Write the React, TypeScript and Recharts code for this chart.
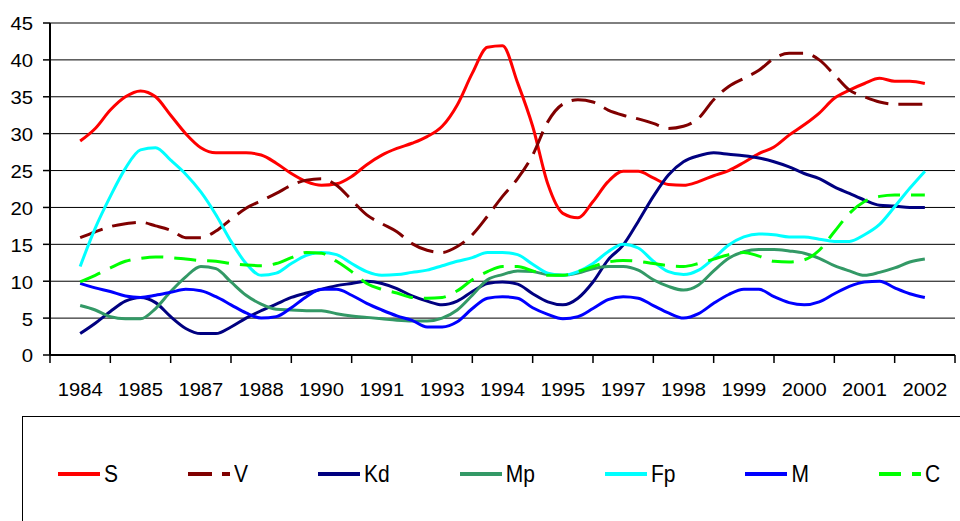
import React from 'react';
import { LineChart, Line, XAxis, YAxis, CartesianGrid } from 'recharts';

// category positions (in units of one label slot), read every quarter slot
const positions = [
  0.5, 0.75, 1, 1.25, 1.5, 1.75, 2, 2.25, 2.5, 2.75, 3, 3.25, 3.5, 3.75, 4, 4.25,
  4.5, 4.75, 5, 5.25, 5.5, 5.75, 6, 6.25, 6.5, 6.75, 7, 7.25, 7.5, 7.75, 8, 8.25,
  8.5, 8.75, 9, 9.25, 9.5, 9.75, 10, 10.25, 10.5, 10.75, 11, 11.25, 11.5, 11.75, 12, 12.25,
  12.5, 12.75, 13, 13.25, 13.5, 13.75, 14, 14.25, 14.5,
];

const yearLabels = [
  '1984', '1985', '1987', '1988', '1990', '1991', '1993', '1994',
  '1995', '1997', '1998', '1999', '2000', '2001', '2002',
];

const slotEdges = [0, 1, 2, 3, 4, 5, 6, 7, 8, 9, 10, 11, 12, 13, 14, 15];
const yTicks = [0, 5, 10, 15, 20, 25, 30, 35, 40, 45];

const sValues = [
  29.0, 30.7, 33.2, 35.0, 35.8, 35.0, 32.5, 30.0, 28.1, 27.4, 27.4, 27.4, 27.1, 26.0, 24.6, 23.5,
  23.0, 23.2, 24.2, 25.8, 27.1, 28.0, 28.7, 29.6, 31.0, 33.9, 38.2, 41.7, 41.9, 36.9, 31.0, 23.2,
  19.2, 18.6, 20.8, 23.5, 24.9, 24.9, 24.0, 23.1, 23.0, 23.5, 24.3, 25.0, 26.1, 27.3, 28.2, 29.8,
  31.2, 32.8, 34.8, 35.9, 36.8, 37.5, 37.1, 37.1, 36.8,
];
const vValues = [
  15.9, 16.7, 17.4, 17.8, 18.0, 17.5, 16.9, 15.9, 15.9, 16.8, 18.4, 19.9, 20.9, 21.9, 23.0, 23.7,
  23.9, 23.0, 21.0, 19.0, 17.8, 16.7, 15.1, 14.2, 13.9, 14.7, 16.3, 18.8, 21.5, 23.9, 27.1, 31.6,
  34.0, 34.6, 34.3, 33.2, 32.5, 32.0, 31.4, 30.7, 31.0, 32.1, 34.6, 36.4, 37.5, 38.6, 40.2, 40.9,
  40.9, 40.0, 38.0, 35.9, 35.0, 34.3, 34.0, 34.0, 34.0,
];
const kdValues = [
  2.9, 4.3, 5.9, 7.3, 7.8, 7.1, 5.2, 3.6, 2.9, 2.9, 3.8, 5.0, 6.0, 6.9, 7.8, 8.4,
  8.9, 9.4, 9.7, 10.0, 9.7, 9.0, 8.0, 7.3, 6.8, 7.3, 8.6, 9.7, 9.9, 9.6, 8.3, 7.2,
  6.8, 7.7, 9.9, 12.9, 14.9, 18.1, 21.5, 24.4, 26.2, 27.0, 27.4, 27.2, 27.0, 26.7, 26.2, 25.5,
  24.6, 23.9, 22.8, 21.9, 21.0, 20.3, 20.2, 20.0, 20.0,
];
const mpValues = [
  6.7, 6.1, 5.2, 4.9, 4.9, 6.3, 8.6, 10.6, 12.0, 11.7, 9.9, 8.1, 6.9, 6.2, 6.1, 6.0,
  6.0, 5.6, 5.3, 5.1, 4.9, 4.7, 4.6, 4.6, 5.0, 6.1, 8.1, 10.2, 10.9, 11.4, 11.3, 10.9,
  10.8, 11.1, 11.7, 12.0, 12.0, 11.5, 10.2, 9.3, 8.8, 9.5, 11.4, 13.1, 14.0, 14.3, 14.3, 14.1,
  13.8, 13.1, 12.1, 11.4, 10.8, 11.2, 11.8, 12.6, 13.0,
];
const fpValues = [
  12.0, 17.2, 21.5, 25.3, 27.8, 28.1, 26.4, 24.5, 22.1, 19.0, 15.4, 12.4, 10.8, 11.1, 12.4, 13.5,
  13.9, 13.6, 12.4, 11.3, 10.8, 10.9, 11.2, 11.5, 12.1, 12.7, 13.2, 13.9, 13.9, 13.6, 12.3, 11.1,
  10.8, 11.3, 12.4, 14.0, 15.0, 14.5, 12.7, 11.3, 10.9, 11.5, 13.1, 14.9, 16.0, 16.4, 16.3, 16.0,
  16.0, 15.7, 15.4, 15.4, 16.3, 17.7, 20.1, 22.6, 24.9,
];
const mValues = [
  9.7, 9.1, 8.6, 8.0, 7.8, 8.1, 8.5, 8.9, 8.7, 7.9, 6.8, 5.7, 5.0, 5.2, 6.4, 7.9,
  8.9, 8.9, 8.1, 7.0, 6.1, 5.3, 4.7, 3.8, 3.8, 4.5, 6.3, 7.7, 7.9, 7.7, 6.4, 5.5,
  4.9, 5.2, 6.3, 7.5, 7.9, 7.7, 6.7, 5.7, 5.0, 5.6, 7.0, 8.2, 8.9, 8.9, 7.9, 7.1,
  6.8, 7.2, 8.3, 9.3, 9.9, 10.0, 9.1, 8.3, 7.8,
];
const cValues = [
  9.9, 10.8, 11.8, 12.7, 13.1, 13.3, 13.2, 13.0, 12.8, 12.7, 12.4, 12.2, 12.1, 12.4, 13.2, 13.9,
  13.8, 12.7, 11.3, 9.7, 8.9, 8.4, 7.8, 7.7, 7.8, 8.7, 10.2, 11.3, 12.0, 12.0, 11.4, 10.8,
  10.8, 11.3, 12.0, 12.6, 12.8, 12.7, 12.4, 12.1, 12.0, 12.4, 13.0, 13.6, 13.9, 13.4, 12.7, 12.6,
  12.9, 14.2, 16.7, 19.2, 20.8, 21.5, 21.7, 21.7, 21.7,
];

const series = [
  { key: 'S', values: sValues, color: '#FF0000' },
  { key: 'V', values: vValues, color: '#800000', dash: '24 10' },
  { key: 'Kd', values: kdValues, color: '#000080' },
  { key: 'Mp', values: mpValues, color: '#339966' },
  { key: 'Fp', values: fpValues, color: '#00FFFF' },
  { key: 'M', values: mValues, color: '#0000FF' },
  { key: 'C', values: cValues, color: '#00FF00', dash: '22 11' },
];

const data = positions.map((t, i) => {
  const row: any = { t };
  series.forEach((s) => {
    row[s.key] = s.values[i];
  });
  return row;
});

const FONT = '"Liberation Sans", Arial, sans-serif';
const PLOT_W = 905;
const halfSlot = PLOT_W / yearLabels.length / 2;

const XTick = ({ x, y, payload }: any) => {
  const i = payload.value;
  return (
    <g>
      <line x1={x} x2={x} y1={y} y2={y + 8} stroke="#000" strokeWidth={1.5} />
      {i < yearLabels.length && (
        <text
          transform={`translate(${x + halfSlot},${y + 41}) scale(1.12,1)`}
          textAnchor="middle"
          fontSize={18}
          fontFamily={FONT}
          fill="#000"
        >
          {yearLabels[i]}
        </text>
      )}
    </g>
  );
};

const YTick = ({ x, y, payload }: any) => (
  <text
    transform={`translate(${x},${y + 1}) scale(1.13,1)`}
    textAnchor="end"
    dy="0.36em"
    fontSize={18}
    fontFamily={FONT}
    fill="#000"
  >
    {payload.value}
  </text>
);

export default function App() {
  return (
    <div
      style={{
        position: 'absolute',
        left: 0,
        top: 0,
        width: 960,
        height: 521,
        overflow: 'hidden',
        background: '#fff',
        fontFamily: FONT,
      }}
    >
      <LineChart width={960} height={400} data={data} margin={{ top: 23, right: 5, left: 0, bottom: 0 }}>
        <CartesianGrid vertical={false} stroke="#000" strokeWidth={1} />
        <XAxis
          dataKey="t"
          type="number"
          domain={[0, 15]}
          ticks={slotEdges}
          interval={0}
          height={45}
          tickSize={0}
          tickMargin={0}
          tickLine={false}
          tick={<XTick />}
          axisLine={{ stroke: '#000', strokeWidth: 2 }}
        />
        <YAxis
          domain={[0, 45]}
          ticks={yTicks}
          interval={0}
          width={50}
          tickSize={7}
          tickMargin={10}
          tickLine={{ stroke: '#000', strokeWidth: 1.5 }}
          tick={<YTick />}
          axisLine={{ stroke: '#000', strokeWidth: 2 }}
        />
        {series.map((s) => (
          <Line
            key={s.key}
            dataKey={s.key}
            name={s.key}
            type="monotone"
            stroke={s.color}
            strokeWidth={3}
            strokeDasharray={s.dash}
            dot={false}
            activeDot={false}
            isAnimationActive={false}
          />
        ))}
      </LineChart>
      <div
        style={{
          position: 'absolute',
          left: 22,
          top: 416,
          width: 960,
          height: 130,
          border: '1.5px solid #000',
          boxSizing: 'border-box',
        }}
      >
        <div
          style={{
            position: 'absolute',
            left: 35,
            top: 44,
            height: 26,
            display: 'flex',
            alignItems: 'center',
            gap: 70,
          }}
        >
          {series.map((s) => (
            <div key={s.key} style={{ display: 'flex', alignItems: 'center' }}>
              <svg width={42} height={8}>
                <line x1={0} x2={42} y1={4} y2={4} stroke={s.color} strokeWidth={4} strokeDasharray={s.dash} />
              </svg>
              <span
                style={{
                  marginLeft: 4,
                  fontSize: 21,
                  display: 'inline-block',
                  transform: 'scaleY(1.12)',
                  color: '#000',
                }}
              >
                {s.key}
              </span>
            </div>
          ))}
        </div>
      </div>
    </div>
  );
}
